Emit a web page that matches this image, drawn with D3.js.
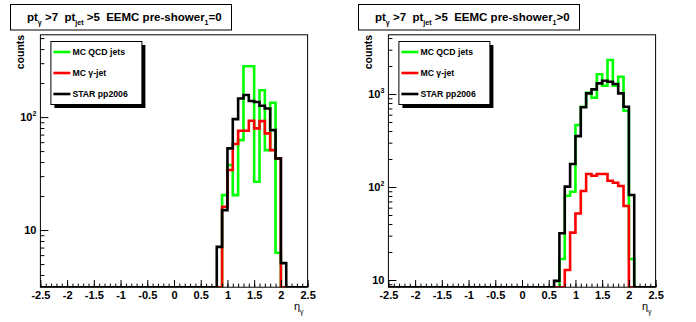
<!DOCTYPE html>
<html><head><meta charset="utf-8">
<script src="https://cdn.jsdelivr.net/npm/d3@7/dist/d3.min.js"></script>
<style>
body{margin:0;background:#fff}
svg{display:block;font-family:"Liberation Sans",Arial,Helvetica,sans-serif;font-weight:bold}
text{white-space:pre}
</style>
</head><body><svg id="c" width="696" height="322"></svg>
<script>
// ---- data ----
const xTicks = [-2.5, -2, -1.5, -1, -0.5, 0, 0.5, 1, 1.5, 2, 2.5];
const xTickLabels = ["-2.5", "-2", "-1.5", "-1", "-0.5", "0", "0.5", "1", "1.5", "2", "2.5"];
const xRange = [-2.5, 2.5];
const binWidth = 0.1;
const legendLabels = ["MC QCD jets", "MC γ-jet", "STAR pp2006"];
const seriesColors = ["#00ff00", "#ff0000", "#000000"];

// left panel: pre-shower_1 = 0
const leftTitle = ["pt", "γ", " >7  pt", "jet", " >5  EEMC pre-shower", "1", "=0"];
const leftYDomain = [3.12, 535];
const leftYTickExps = [1, 2];
const leftBinLow = [0.8, 0.9, 1.0, 1.1, 1.2, 1.3, 1.4, 1.5, 1.6, 1.7, 1.8, 1.9, 2.0];
const leftQCD   = [0, 20.4, 37.6, 20.4, 62.5, 282, 282, 26.8, 173, 51, 134, 6.3, 0];
const leftGamma = [0, 16.1, 34, 57.7, 75.6, 75.6, 92.7, 79.4, 92, 71.8, 51, 43, 0];
const leftStar  = [7.1, 15.0, 52.8, 96, 146, 157, 139, 136, 126, 119, 76.7, 43, 5.1];

// right panel: pre-shower_1 > 0
const rightTitle = ["pt", "γ", " >7  pt", "jet", " >5  EEMC pre-shower", "1", ">0"];
const rightYDomain = [8.37, 4335];
const rightYTickExps = [1, 2, 3];
const rightBinLow = [0.6, 0.7, 0.8, 0.9, 1.0, 1.1, 1.2, 1.3, 1.4, 1.5, 1.6, 1.7, 1.8, 1.9, 2.0, 2.1];
const rightQCD   = [0, 16.8, 80.6, 89, 464, 730, 1030, 913, 1630, 1228, 2320, 1228, 1535, 661, 16.8, 0];
const rightGamma = [0, 0, 12.8, 32.3, 52, 90.6, 138, 132, 138, 138, 117, 111, 102.6, 62.5, 0, 0];
const rightStar  = [9.8, 31.8, 101, 177, 353, 720, 1017, 1123, 1303, 1391, 1356, 1281, 1017, 730, 82, 0];

// ---- drawing ----
const svg = d3.select("#c");
const panelW = 348;
const fr = {l: 40.4, r: 307.6, t: 34.8, b: 287.2};

function drawPanel(idx, title, yDomain, yExps, binLow, series) {
  const ox = idx * panelW;
  const g = svg.append("g").attr("transform", `translate(${ox},0)`);
  const x = d3.scaleLinear().domain(xRange).range([fr.l, fr.r]);
  const y = d3.scaleLog().domain(yDomain).range([fr.b, fr.t]);

  // frame background
  g.append("rect").attr("x", fr.l).attr("y", fr.t).attr("width", fr.r - fr.l).attr("height", fr.b - fr.t)
    .attr("fill", "#fff");

  const clipId = "clip" + idx;
  g.append("clipPath").attr("id", clipId).append("rect")
    .attr("x", fr.l).attr("y", fr.t).attr("width", fr.r - fr.l).attr("height", fr.b - fr.t);

  const yv = v => v <= yDomain[0] ? y(yDomain[0]) : y(v);
  const line = d3.line().x(d => x(d[0])).y(d => yv(d[1]));
  series.forEach((vals, si) => {
    const pts = [[xRange[0], 0], [binLow[0], 0]];
    binLow.forEach((lo, i) => { pts.push([lo, vals[i]]); pts.push([lo + binWidth, vals[i]]); });
    pts.push([binLow[binLow.length - 1] + binWidth, 0]);
    pts.push([xRange[1], 0]);
    g.append("path").attr("d", line(pts)).attr("fill", "none")
      .attr("stroke", seriesColors[si]).attr("stroke-width", 2.6)
      .attr("stroke-linejoin", "miter").attr("clip-path", `url(#${clipId})`);
  });

  // x axis ticks (inside)
  const minor = d3.range(-25, 26).map(k => k / 10);
  g.append("g").attr("transform", `translate(0,${fr.b})`)
    .call(d3.axisBottom(x).tickValues(minor).tickSize(-3.6).tickFormat("").tickSizeOuter(0))
    .call(a => { a.select(".domain").remove(); a.selectAll("line").attr("stroke", "#000"); });
  const xa = g.append("g").attr("transform", `translate(0,${fr.b})`)
    .call(d3.axisBottom(x).tickValues(xTicks).tickSize(-7.2).tickPadding(0).tickSizeOuter(0)
      .tickFormat((d, i) => xTickLabels[i]));
  xa.select(".domain").remove();
  xa.selectAll("line").attr("stroke", "#000");
  xa.selectAll("text").attr("y", 12).attr("dy", 0).attr("font-size", 11).attr("font-family", null)
    .attr("fill", "#000").attr("font-weight", "bold");

  // y axis ticks (inside, log)
  const lo = Math.floor(Math.log10(yDomain[0])), hi = Math.ceil(Math.log10(yDomain[1]));
  const ymin = [];
  for (let e = lo; e <= hi; e++) for (let m = 2; m <= 9; m++) {
    const v = m * Math.pow(10, e);
    if (v >= yDomain[0] && v <= yDomain[1]) ymin.push(v);
  }
  g.append("g").attr("transform", `translate(${fr.l},0)`)
    .call(d3.axisLeft(y).tickValues(ymin).tickSize(-4).tickFormat("").tickSizeOuter(0))
    .call(a => { a.select(".domain").remove(); a.selectAll("line").attr("stroke", "#000"); });
  const yMaj = yExps.map(e => Math.pow(10, e));
  const ya = g.append("g").attr("transform", `translate(${fr.l},0)`)
    .call(d3.axisLeft(y).tickValues(yMaj).tickSize(-8).tickFormat("").tickSizeOuter(0));
  ya.select(".domain").remove();
  ya.selectAll("line").attr("stroke", "#000");
  yExps.forEach(e => {
    const t = g.append("text").attr("x", fr.l - 4).attr("y", y(Math.pow(10, e)) + 4)
      .attr("text-anchor", "end").attr("font-size", 11);
    if (e === 1) t.text("10");
    else {
      t.append("tspan").text("10");
      t.append("tspan").attr("font-size", 7).attr("dy", -5).text(String(e));
    }
  });

  // frame border
  g.append("rect").attr("x", fr.l).attr("y", fr.t).attr("width", fr.r - fr.l).attr("height", fr.b - fr.t)
    .attr("fill", "none").attr("stroke", "#000").attr("stroke-width", 1);

  // axis titles
  g.append("text").attr("transform", `translate(24,${fr.t}) rotate(-90)`)
    .attr("text-anchor", "end").attr("font-size", 10.5).text("counts");
  const xt = g.append("text").attr("x", fr.r - 4).attr("y", 310).attr("text-anchor", "end")
    .attr("font-size", 11).attr("font-weight", "normal");
  xt.append("tspan").text("η");
  xt.append("tspan").attr("font-size", 7).attr("dy", 4).text("γ");

  // title box
  g.append("rect").attr("x", 10.5).attr("y", 4.5).attr("width", 221).attr("height", 25.5)
    .attr("fill", "#fff").attr("stroke", "#000").attr("stroke-width", 1);
  const tt = g.append("text").attr("x", 27).attr("y", 21).attr("font-size", 11.5);
  let shifted = false;
  title.forEach((s, i) => {
    const isSub = i % 2 === 1;
    const sp = tt.append("tspan").text(s);
    if (isSub) { sp.attr("font-size", 7).attr("dy", 4); shifted = true; }
    else if (shifted) { sp.attr("dy", -4); shifted = false; }
  });

  // legend
  const lx = fr.l + 10, ly = 41, lw = 91, lh = 63;
  g.append("rect").attr("x", lx + 4).attr("y", ly + 4).attr("width", lw).attr("height", lh).attr("fill", "#000");
  g.append("rect").attr("x", lx + 0.5).attr("y", ly + 0.5).attr("width", lw).attr("height", lh)
    .attr("fill", "#fff").attr("stroke", "#000").attr("stroke-width", 1);
  legendLabels.forEach((lab, i) => {
    const cy = ly + lh / 6 + i * lh / 3 + 0.5;
    g.append("line").attr("x1", lx + 3).attr("x2", lx + 20).attr("y1", cy).attr("y2", cy)
      .attr("stroke", seriesColors[i]).attr("stroke-width", 2.6);
    g.append("text").attr("x", lx + 22).attr("y", cy + 3.2).attr("font-size", 8.7).text(lab);
  });
}

drawPanel(0, leftTitle, leftYDomain, leftYTickExps, leftBinLow, [leftQCD, leftGamma, leftStar]);
drawPanel(1, rightTitle, rightYDomain, rightYTickExps, rightBinLow, [rightQCD, rightGamma, rightStar]);
</script>
</body></html>
